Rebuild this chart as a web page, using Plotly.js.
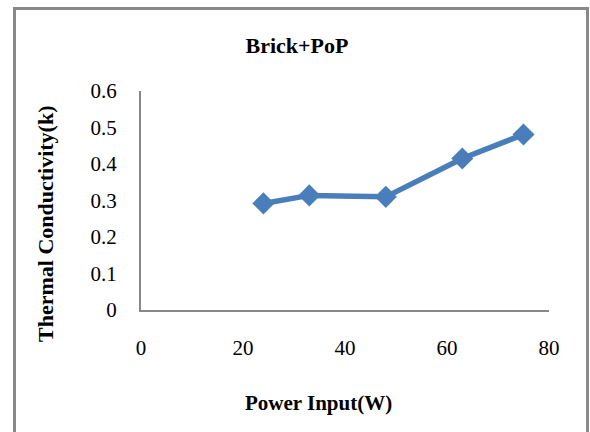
<!DOCTYPE html>
<html>
<head>
<meta charset="utf-8">
<script src="https://cdn.plot.ly/plotly-3.0.1.min.js"></script>
<style>
html,body{margin:0;padding:0;background:#fff;}
#wrap{position:relative;width:590px;height:432px;overflow:hidden;}
#frame{position:absolute;left:13px;top:7px;width:570px;height:440px;border-left:3px solid #898989;border-top:3px solid #898989;border-right:3px solid #898989;box-sizing:content-box;}
#chart{position:absolute;left:0;top:0;width:590px;height:432px;}
</style>
</head>
<body>
<div id="wrap">
<div id="frame"></div>
<div id="chart"></div>
</div>
<script>
const powerInput = [24, 33, 48, 63, 75];
const thermalConductivity = [0.292, 0.314, 0.310, 0.415, 0.481];
const xTicks = [0, 20, 40, 60, 80];
const yTicks = [0, 0.1, 0.2, 0.3, 0.4, 0.5, 0.6];
const chartTitle = "Brick+PoP";
const xTitle = "Power Input(W)";
const yTitle = "Thermal Conductivity(k)";

const serif = "'Liberation Serif', 'Times New Roman', serif";
const W = 590, H = 432;

const trace = {
  x: powerInput,
  y: thermalConductivity,
  type: "scatter",
  mode: "lines+markers",
  line: {color: "#4a7ebb", width: 5.5},
  marker: {symbol: "diamond", size: 17, color: "#4a7ebb"},
  cliponaxis: false,
  hoverinfo: "none"
};

const layout = {
  width: W, height: H,
  paper_bgcolor: "rgba(0,0,0,0)",
  plot_bgcolor: "rgba(0,0,0,0)",
  margin: {l: 141, r: 41, t: 91, b: 122, pad: 0},
  showlegend: false,
  title: {
    text: "<b>" + chartTitle + "</b>",
    font: {family: serif, size: 22, color: "#000"},
    xref: "container", yref: "container",
    x: 297 / W, y: 1 - 45 / H, xanchor: "center", yanchor: "middle"
  },
  xaxis: {
    range: [0, 80],
    tickvals: xTicks,
    ticktext: xTicks.map(String),
    showgrid: false, zeroline: false,
    showline: true, linecolor: "#888888", linewidth: 2,
    ticks: "",
    ticklabelstandoff: 18,
    tickfont: {family: serif, size: 21, color: "#000"},
    fixedrange: true
  },
  yaxis: {
    range: [0, 0.6],
    tickvals: yTicks,
    ticktext: yTicks.map(v => String(v)),
    showgrid: false, zeroline: false,
    showline: true, linecolor: "#888888", linewidth: 2,
    ticks: "",
    ticklabelstandoff: 18,
    tickfont: {family: serif, size: 21, color: "#000"},
    fixedrange: true
  },
  annotations: [
    {
      text: "<b>" + xTitle + "</b>",
      xref: "paper", yref: "paper",
      x: (318 - 141) / (549 - 141), y: -(403 - 310) / (310 - 91),
      xanchor: "center", yanchor: "middle", showarrow: false,
      font: {family: serif, size: 21, color: "#000"}
    },
    {
      text: "<b>" + yTitle + "</b>",
      xref: "paper", yref: "paper",
      x: -(141 - 45) / (549 - 141), y: (310 - 224) / (310 - 91),
      xanchor: "center", yanchor: "middle", showarrow: false, textangle: -90,
      font: {family: serif, size: 22, color: "#000"}
    }
  ]
};

Plotly.newPlot("chart", [trace], layout, {staticPlot: true, displayModeBar: false});
</script>
</body>
</html>
